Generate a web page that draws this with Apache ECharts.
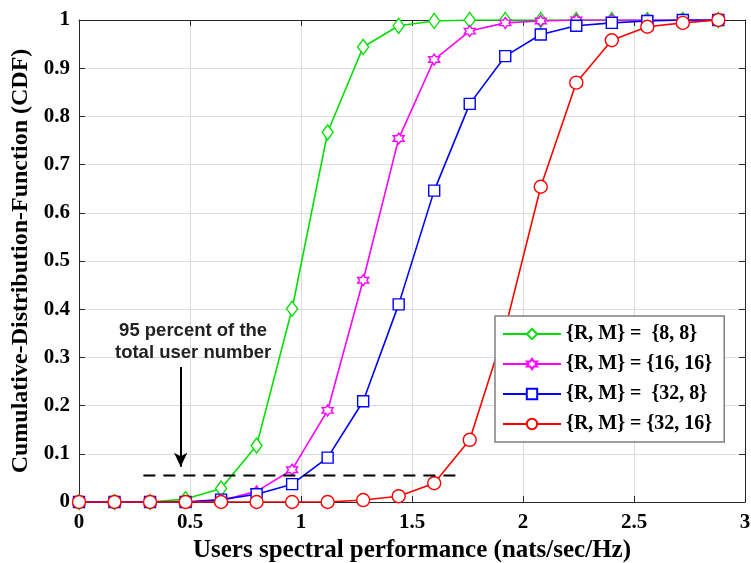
<!DOCTYPE html>
<html>
<head>
<meta charset="utf-8">
<script src="https://cdn.jsdelivr.net/npm/echarts@6/dist/echarts.min.js"></script>
<style>html,body{margin:0;padding:0;background:#fff}#c{width:751px;height:563px}</style>
</head>
<body>
<div id="c"></div>
<script>
var xVals = [0, 0.16, 0.32, 0.48, 0.64, 0.8, 0.96, 1.12, 1.28, 1.44, 1.6, 1.76, 1.92, 2.08, 2.24, 2.4, 2.56, 2.72, 2.88];
var green = [0, 0, 0, 0.006, 0.028, 0.117, 0.401, 0.767, 0.944, 0.988, 0.998, 1, 1, 1, 1, 1, 1, 1, 1];
var magenta = [0, 0, 0, 0, 0.003, 0.022, 0.067, 0.19, 0.46, 0.754, 0.918, 0.977, 0.994, 0.998, 1, 1, 1, 1, 1];
var blue = [0, 0, 0, 0, 0.005, 0.016, 0.037, 0.092, 0.209, 0.41, 0.646, 0.826, 0.925, 0.970, 0.988, 0.994, 0.998, 1, 1];
var red = [0, 0, 0, 0, 0, 0, 0, 0, 0.004, 0.012, 0.039, 0.129, 0.36, 0.654, 0.870, 0.958, 0.986, 0.994, 1];
var seriesNames = ['{R, M} =  {8, 8}', '{R, M} = {16, 16}', '{R, M} =  {32, 8}', '{R, M} = {32, 16}'];
var xTicks = ['0', '0.5', '1', '1.5', '2', '2.5', '3'];
var dashedLine = [[0.29, 0.055], [1.73, 0.055]];
var arrowLine = [[0.458, 0.28], [0.458, 0.073]];
var noteText = ['95 percent of the', 'total user number'];
var notePos = [0.514, 0.332];

function pairs(ys) { return xVals.map(function (x, i) { return [x, ys[i]]; }); }
var hexagram = 'path://M0,-10 L2.9,-5 L8.66,-5 L5.8,0 L8.66,5 L2.9,5 L0,10 L-2.9,5 L-8.66,5 L-5.8,0 L-8.66,-5 L-2.9,-5Z';
var serif = '"Liberation Serif", "Times New Roman", serif';

function mk(name, data, color, symbol, size) {
  return {
    name: name, type: 'line', data: pairs(data), symbol: symbol, symbolSize: size,
    showAllSymbol: true,
    lineStyle: { color: color, width: 1.6 },
    itemStyle: { color: '#fff', borderColor: color, borderWidth: 1.4 },
    color: color, animation: false
  };
}

var chart = echarts.init(document.getElementById('c'), null, { renderer: 'canvas' });
var axisLabelStyle = { color: '#000', fontFamily: serif, fontWeight: 'bold', fontSize: 21 };
chart.setOption({
  animation: false,
  backgroundColor: '#fff',
  grid: { left: 79, right: 6, top: 20, bottom: 61, containLabel: false, outerBoundsMode: 'none', show: false },
  xAxis: [{
    type: 'value', min: 0, max: 3, interval: 0.5,
    name: 'Users spectral performance (nats/sec/Hz)', nameLocation: 'middle', nameGap: 34,
    nameTextStyle: { color: '#000', fontFamily: serif, fontWeight: 'bold', fontSize: 25 },
    axisLine: { show: true, onZero: false, lineStyle: { color: '#262626', width: 1 } },
    axisTick: { show: true, inside: true, length: 6, lineStyle: { color: '#262626' } },
    axisLabel: Object.assign({ margin: 10, formatter: function (v) { return xTicks[Math.round(v / 0.5)]; } }, axisLabelStyle),
    splitLine: { show: true, lineStyle: { color: '#dcdcdc', width: 1 } }
  }, {
    type: 'value', min: 0, max: 3, interval: 0.5, position: 'top',
    axisLine: { show: true, onZero: false, lineStyle: { color: '#262626', width: 1 } },
    axisTick: { show: true, inside: true, length: 6, lineStyle: { color: '#262626' } },
    axisLabel: { show: false }, splitLine: { show: false }
  }],
  yAxis: [{
    type: 'value', min: 0, max: 1, interval: 0.1,
    name: 'Cumulative-Distribution-Function (CDF)', nameLocation: 'middle', nameGap: 45,
    nameTextStyle: { color: '#000', fontFamily: serif, fontWeight: 'bold', fontSize: 24 },
    axisLine: { show: true, onZero: false, lineStyle: { color: '#262626', width: 1 } },
    axisTick: { show: true, inside: true, length: 6, lineStyle: { color: '#262626' } },
    axisLabel: Object.assign({ margin: 9, formatter: function (v) { return String(Math.round(v * 10) / 10); } }, axisLabelStyle),
    splitLine: { show: true, lineStyle: { color: '#dcdcdc', width: 1 } }
  }, {
    type: 'value', min: 0, max: 1, interval: 0.1, position: 'right',
    axisLine: { show: true, onZero: false, lineStyle: { color: '#262626', width: 1 } },
    axisTick: { show: true, inside: true, length: 6, lineStyle: { color: '#262626' } },
    axisLabel: { show: false }, splitLine: { show: false }
  }],
  legend: {
    data: seriesNames, orient: 'vertical', left: 495, top: 316,
    itemWidth: 58, itemHeight: 13, itemGap: 10,
    padding: [8, 12, 8, 7],
    backgroundColor: '#fff', borderColor: '#808080', borderWidth: 1.5,
    textStyle: { color: '#000', fontFamily: serif, fontWeight: 'bold', fontSize: 20 },
    selectedMode: false
  },
  series: [
    mk(seriesNames[0], green, '#00e000', 'diamond', [11, 15]),
    mk(seriesNames[1], magenta, '#ff00ff', hexagram, 11),
    mk(seriesNames[2], blue, '#0000ff', 'rect', 11),
    mk(seriesNames[3], red, '#ff0000', 'circle', 13),
    {
      name: 'annotation', type: 'line', data: dashedLine, symbol: 'none',
      lineStyle: { color: '#000', width: 2, type: [12, 8] }, silent: true, z: 5,
      markLine: {
        silent: true, symbol: ['none', 'arrow'], symbolSize: [10, 14],
        lineStyle: { color: '#000', width: 2, type: 'solid' }, label: { show: false },
        data: [[{ coord: arrowLine[0] }, { coord: arrowLine[1] }]]
      },
      markPoint: {
        silent: true, symbol: 'circle', symbolSize: 0,
        data: [{ coord: notePos }],
        label: {
          show: true, position: 'inside', formatter: noteText.join('\n'),
          color: '#222', fontFamily: '"Liberation Sans", Arial, sans-serif', fontWeight: 'bold',
          fontSize: 18.5, lineHeight: 22, align: 'center'
        }
      }
    }
  ]
});
</script>
</body>
</html>
